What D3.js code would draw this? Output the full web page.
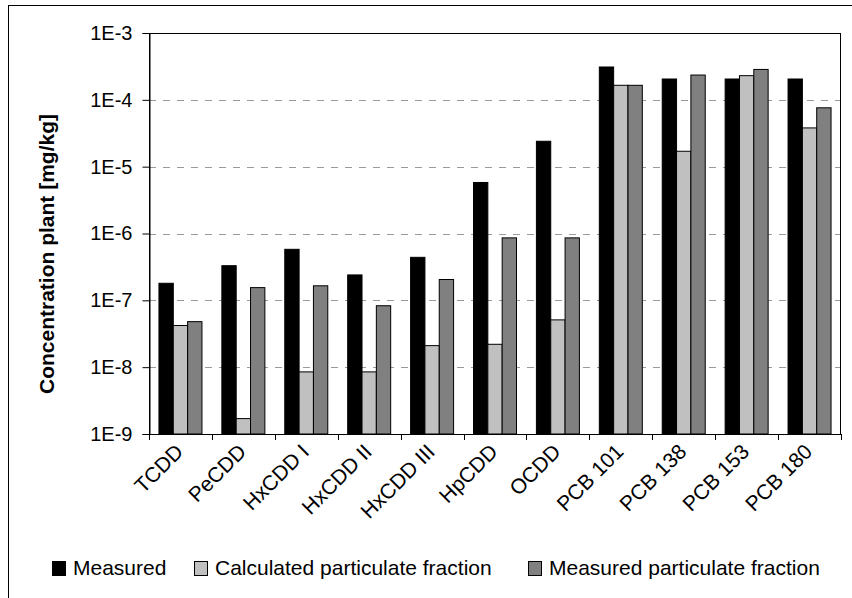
<!DOCTYPE html>
<html>
<head>
<meta charset="utf-8">
<script src="https://cdn.jsdelivr.net/npm/d3@7"></script>
<style>
  html, body { margin: 0; padding: 0; background: #fff; }
  svg { display: block; font-family: "Liberation Sans", Arial, sans-serif; }
</style>
</head>
<body>
<svg id="chart" width="852" height="598"></svg>
<script>
// Compounds on the x axis
const categories = ["TCDD", "PeCDD", "HxCDD I", "HxCDD II", "HxCDD III", "HpCDD", "OCDD",
                    "PCB 101", "PCB 138", "PCB 153", "PCB 180"];

// Concentrations in plant [mg/kg]
const measured = [1.8e-7, 3.3e-7, 5.8e-7, 2.4e-7, 4.4e-7, 5.8e-6, 2.4e-5, 3.1e-4, 2.05e-4, 2.05e-4, 2.05e-4];
const calculatedParticulate = [4.2e-8, 1.7e-9, 8.5e-9, 8.5e-9, 2.1e-8, 2.2e-8, 5.1e-8, 1.65e-4, 1.7e-5, 2.3e-4, 3.8e-5];
const measuredParticulate = [4.8e-8, 1.55e-7, 1.65e-7, 8.3e-8, 2.05e-7, 8.6e-7, 8.6e-7, 1.65e-4, 2.35e-4, 2.85e-4, 7.6e-5];

const seriesNames = ["Measured", "Calculated particulate fraction", "Measured particulate fraction"];
const seriesValues = [measured, calculatedParticulate, measuredParticulate];
const seriesColors = ["#000000", "#c0c0c0", "#808080"];

// Y axis decades and their labels
const yTicks = [1e-9, 1e-8, 1e-7, 1e-6, 1e-5, 1e-4, 1e-3];
const yTickLabels = ["1E-9", "1E-8", "1E-7", "1E-6", "1E-5", "1E-4", "1E-3"];

const svg = d3.select("#chart");
const plot = { left: 149, right: 841, top: 33, bottom: 434 };

// Outer chart border (left and top visible)
svg.append("rect")
  .attr("x", 8.5).attr("y", 5.5)
  .attr("width", 860).attr("height", 610)
  .attr("fill", "#fff").attr("stroke", "#000").attr("stroke-width", 1);

const x = d3.scaleBand().domain(categories).range([plot.left, plot.right]).paddingInner(0).paddingOuter(0);
const y = d3.scaleLog().domain([1e-9, 1e-3]).range([plot.bottom, plot.top]);

const groupWidth = 43;
const xs = d3.scaleBand().domain(seriesNames).range([0, groupWidth]).padding(0);
const groupOffset = (x.bandwidth() - groupWidth) / 2;

// Dashed horizontal gridlines
svg.append("g")
  .selectAll("line")
  .data(yTicks.filter(t => t > 1e-9 && t < 1e-3))
  .join("line")
  .attr("x1", plot.left).attr("x2", plot.right)
  .attr("y1", d => Math.round(y(d)) + 0.5).attr("y2", d => Math.round(y(d)) + 0.5)
  .attr("stroke", "#9a9a9a").attr("stroke-width", 1)
  .attr("stroke-dasharray", "7,7");

// Bars
const rows = categories.map((c, i) => ({ c, vals: seriesValues.map((s, k) => ({ name: seriesNames[k], v: s[i], color: seriesColors[k] })) }));
const groups = svg.append("g").selectAll("g")
  .data(rows)
  .join("g")
  .attr("transform", d => `translate(${x(d.c) + groupOffset},0)`);

groups.selectAll("rect")
  .data(d => d.vals)
  .join("rect")
  .attr("x", d => xs(d.name))
  .attr("width", xs.bandwidth())
  .attr("y", d => y(d.v))
  .attr("height", d => plot.bottom - y(d.v))
  .attr("fill", d => d.color)
  .attr("stroke", "#000")
  .attr("stroke-width", 1);

// Plot frame
svg.append("rect")
  .attr("x", plot.left + 0.5).attr("y", plot.top + 0.5)
  .attr("width", plot.right - plot.left - 1).attr("height", plot.bottom - plot.top)
  .attr("fill", "none").attr("stroke", "#000").attr("stroke-width", 1);

// Y axis
const yAxis = d3.axisLeft(y)
  .tickValues(yTicks)
  .tickFormat((d, i) => yTickLabels[i])
  .tickSizeOuter(0)
  .tickSize(7)
  .tickPadding(10);
const gy = svg.append("g").attr("transform", `translate(${plot.left + 0.5},0)`).call(yAxis);
gy.select(".domain").attr("stroke", "#000");
gy.selectAll(".tick line").attr("stroke", "#000");
gy.selectAll(".tick text").attr("font-size", 20).attr("fill", "#000")
  .attr("font-family", "'Liberation Sans', Arial, sans-serif");

// X axis: ticks on category boundaries
const boundaries = categories.map(c => x(c)).concat([plot.right]);
svg.append("g").selectAll("line")
  .data(boundaries)
  .join("line")
  .attr("x1", d => Math.round(d) + 0.5).attr("x2", d => Math.round(d) + 0.5)
  .attr("y1", plot.bottom).attr("y2", plot.bottom + 6)
  .attr("stroke", "#000");
svg.append("line")
  .attr("x1", plot.left).attr("x2", plot.right)
  .attr("y1", plot.bottom + 0.5).attr("y2", plot.bottom + 0.5)
  .attr("stroke", "#000");

svg.append("g").selectAll("text")
  .data(categories)
  .join("text")
  .attr("transform", d => `translate(${x(d) + x.bandwidth() / 2 + 4},${plot.bottom + 19}) rotate(-45)`)
  .attr("text-anchor", "end")
  .attr("font-size", 21)
  .attr("fill", "#000")
  .text(d => d);

// Y axis title
svg.append("text")
  .attr("transform", "translate(54,254) rotate(-90)")
  .attr("text-anchor", "middle")
  .attr("font-size", 21)
  .attr("font-weight", "bold")
  .attr("fill", "#000")
  .text("Concentration plant [mg/kg]");

// Legend
const legendX = [52, 194, 528];
const legend = svg.append("g").selectAll("g")
  .data(seriesNames)
  .join("g")
  .attr("transform", (d, i) => `translate(${legendX[i]},561)`);
legend.append("rect")
  .attr("x", 0.5).attr("y", 0.5).attr("width", 13).attr("height", 14)
  .attr("fill", (d, i) => seriesColors[i])
  .attr("stroke", "#000");
legend.append("text")
  .attr("x", 21).attr("y", 14)
  .attr("font-size", 21)
  .attr("fill", "#000")
  .text(d => d);
</script>
</body>
</html>
